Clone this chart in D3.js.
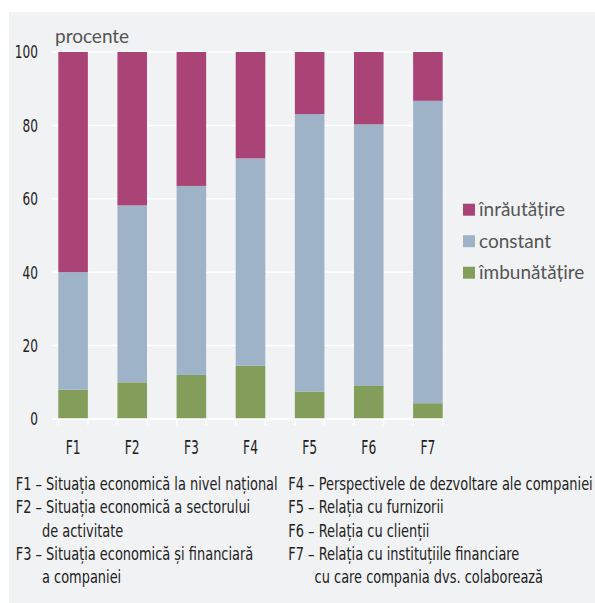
<!DOCTYPE html>
<html>
<head>
<meta charset="utf-8">
<script src="https://cdn.jsdelivr.net/npm/d3@7"></script>
<style>
    body { margin: 0; background: #ffffff; }
    .narrow { font-family: "Liberation Sans Narrow", "DejaVu Sans Condensed", sans-serif; }
    .regular { font-family: Lato, "Open Sans", sans-serif; }
</style>
</head>
<body>
<div id="chart"></div>
<script>

/***** Data *****/
var categories = ["F1", "F2", "F3", "F4", "F5", "F6", "F7"];
var imbunatatire = [8, 10, 12, 14.5, 7.5, 9, 4.3];
var constant = [32, 48.2, 51.5, 56.5, 75.6, 71.3, 82.4];
var inrautatire = [60, 41.8, 36.5, 29, 16.9, 19.7, 13.3];
var yTicks = [0, 20, 40, 60, 80, 100];

var seriesNames = ["îmbunătățire", "constant", "înrăutățire"];
var seriesColors = ["#839e5a", "#9fb3c8", "#ab4476"];
var legendOrder = ["înrăutățire", "constant", "îmbunătățire"];

var notesLeft = [
    ["F1 – ", "Situația economică la nivel național"],
    ["F2 – ", "Situația economică a sectorului"],
    ["", "de activitate"],
    ["F3 – ", "Situația economică și financiară"],
    ["", "a companiei"]
];
var notesRight = [
    ["F4 – ", "Perspectivele de dezvoltare ale companiei"],
    ["F5 – ", "Relația cu furnizorii"],
    ["F6 – ", "Relația cu clienții"],
    ["F7 – ", "Relația cu instituțiile financiare"],
    ["", "cu care compania dvs. colaborează"]
];

var table = categories.map(function(c, i) {
    return {"name": c, "îmbunătățire": imbunatatire[i], "constant": constant[i], "înrăutățire": inrautatire[i]};
});

/***** Svg & panel *****/
var width = 595, height = 603;
var svg = d3.select("#chart").append("svg")
    .attr("width", width)
    .attr("height", height);

svg.append("rect")
    .attr("x", 9)
    .attr("y", 12)
    .attr("width", width - 9)
    .attr("height", height - 12)
    .attr("fill", "#f1f2f4");

// condensed text: the narrow font is squeezed horizontally around its anchor
function place(sel, fx, fy, sx) {
    sel.attr("transform", function(d, i) { return "translate(" + fx(d, i) + "," + fy(d, i) + ") scale(" + sx + ",1)"; });
}

/***** Scales *****/
var gridLeft = 52, gridRight = 443;
var x = d3.scaleBand()
    .domain(categories)
    .range([58.3, 442.7])
    .paddingInner(0.5)
    .paddingOuter(0);

var y = d3.scaleLinear()
    .domain([0, 100])
    .range([419, 52]);

/***** Gridlines *****/
svg.append("g")
    .selectAll("line")
    .data(yTicks)
    .enter().append("line")
    .attr("x1", gridLeft)
    .attr("x2", gridRight)
    .attr("y1", function(d) { return y(d); })
    .attr("y2", function(d) { return y(d); })
    .attr("stroke", "#ffffff")
    .attr("stroke-width", 1.5);

/***** Y tick labels *****/
var yLabels = svg.append("g")
    .selectAll("text")
    .data(yTicks)
    .enter().append("text")
    .attr("class", "narrow")
    .attr("dy", "0.36em")
    .attr("text-anchor", "end")
    .attr("font-size", 18)
    .attr("fill", "#222222")
    .text(function(d) { return d; });
place(yLabels, function() { return 38; }, function(d) { return y(d); }, 0.75);

svg.append("text")
    .attr("class", "regular")
    .attr("x", 55)
    .attr("y", 43)
    .attr("font-size", 19)
    .attr("fill", "#555555")
    .text("procente");

/***** Stacked bars *****/
var stacked = d3.stack().keys(seriesNames)(table);

svg.append("g")
    .selectAll("g")
    .data(stacked)
    .enter().append("g")
    .attr("fill", function(d, i) { return seriesColors[i]; })
    .selectAll("rect")
    .data(function(d) { return d; })
    .enter().append("rect")
    .attr("x", function(d) { return x(d.data.name); })
    .attr("y", function(d) { return y(d[1]); })
    .attr("width", x.bandwidth())
    .attr("height", function(d) { return y(d[0]) - y(d[1]); });

/***** X axis (ticks at bar edges) *****/
var xAxis = svg.append("g");
xAxis.append("line")
    .attr("x1", gridLeft)
    .attr("x2", gridRight)
    .attr("y1", y(0))
    .attr("y2", y(0))
    .attr("stroke", "#ffffff")
    .attr("stroke-width", 1.5);

var edges = [];
categories.forEach(function(c) {
    edges.push(x(c));
    edges.push(x(c) + x.bandwidth());
});
xAxis.selectAll(".tick")
    .data(edges)
    .enter().append("line")
    .attr("class", "tick")
    .attr("x1", function(d) { return d; })
    .attr("x2", function(d) { return d; })
    .attr("y1", y(0))
    .attr("y2", y(0) + 6)
    .attr("stroke", "#ffffff")
    .attr("stroke-width", 1.5);

var xLabels = xAxis.selectAll("text")
    .data(categories)
    .enter().append("text")
    .attr("class", "narrow")
    .attr("text-anchor", "middle")
    .attr("font-size", 19)
    .attr("fill", "#222222")
    .text(function(d) { return d; });
place(xLabels, function(d) { return x(d) + x.bandwidth() / 2; }, function() { return 454; }, 0.72);

/***** Legend *****/
var legend = svg.append("g")
    .selectAll("g")
    .data(legendOrder)
    .enter().append("g")
    .attr("transform", function(d, i) { return "translate(463," + (203.7 + i * 31.5) + ")"; });

legend.append("rect")
    .attr("width", 12)
    .attr("height", 12)
    .attr("fill", function(d) { return seriesColors[seriesNames.indexOf(d)]; });

legend.append("text")
    .attr("class", "regular")
    .attr("x", 16)
    .attr("y", 12.5)
    .attr("font-size", 19)
    .attr("fill", "#555555")
    .text(function(d) { return d; });

/***** Footnotes *****/
var noteSize = 17;
var probe = svg.append("text").attr("class", "narrow").attr("font-size", noteSize).text(notesLeft[0][0] + notesLeft[0][1]);
var noteScale = 262 / probe.node().getComputedTextLength();
probe.text(notesLeft[1][0]);
var noteIndent = probe.node().getComputedTextLength() * noteScale;
probe.remove();

function drawNotes(notes, x0) {
    var g = svg.append("g").attr("class", "narrow").attr("font-size", noteSize).attr("fill", "#222222");
    var lines = g.selectAll("text")
        .data(notes)
        .enter().append("text")
        .text(function(d) { return d[0] + d[1]; });
    place(lines,
        function(d) { return d[0] == "" ? x0 + noteIndent : x0; },
        function(d, i) { return 490 + i * 23.3; },
        noteScale);
}
drawNotes(notesLeft, 15.7);
drawNotes(notesRight, 288.3);

</script>
</body>
</html>
